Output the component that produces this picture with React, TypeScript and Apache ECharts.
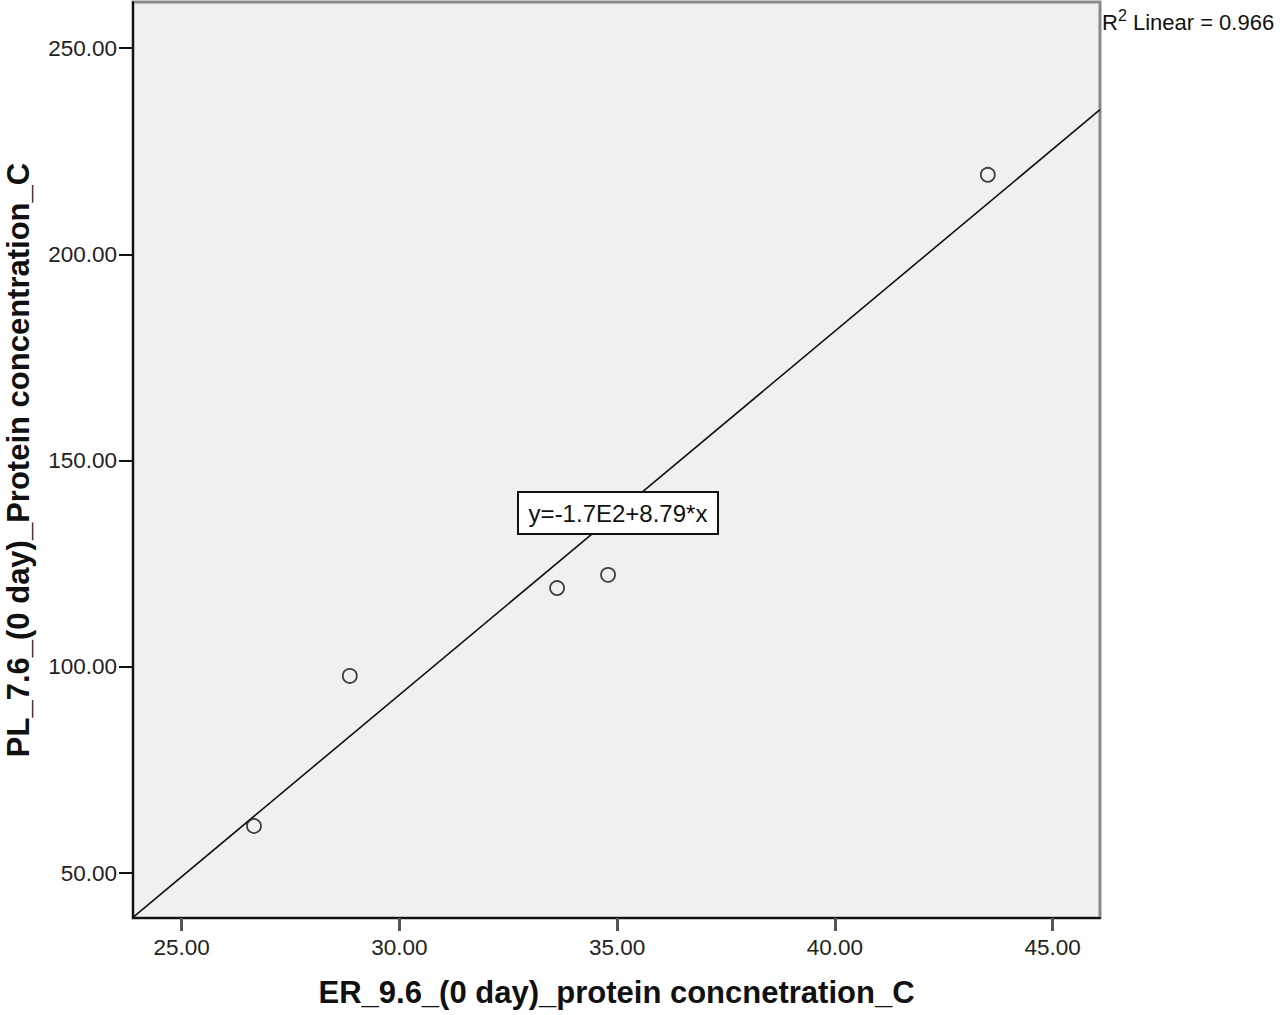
import React, { useEffect, useRef } from "react";
import * as echarts from "echarts";

const xValues = [26.66, 28.86, 33.62, 34.79, 43.51];
const yValues = [61.4, 97.8, 119.1, 122.3, 219.3];
const xTicks = [25, 30, 35, 40, 45];
const yTicks = [50, 100, 150, 200, 250];
const xTitle = "ER_9.6_(0 day)_protein concnetration_C";
const yTitle = "PL_7.6_(0 day)_Protein concentration_C";
const equationText = "y=-1.7E2+8.79*x";
const r2Value = "0.966";

const X_MIN = 23.882;
const X_MAX = 46.086;
const Y_MIN = 39.1;
const Y_MAX = 261.2;

function leastSquares(xs: number[], ys: number[]) {
  const n = xs.length;
  const mx = xs.reduce((a, b) => a + b, 0) / n;
  const my = ys.reduce((a, b) => a + b, 0) / n;
  let sxx = 0;
  let sxy = 0;
  for (let i = 0; i < n; i++) {
    sxx += (xs[i] - mx) * (xs[i] - mx);
    sxy += (xs[i] - mx) * (ys[i] - my);
  }
  const slope = sxy / sxx;
  return { slope, intercept: my - slope * mx };
}

export default function App() {
  const ref = useRef<HTMLDivElement>(null);
  useEffect(() => {
    if (!ref.current) return;
    const chart = echarts.init(ref.current, null, { renderer: "svg" });
    const fit = leastSquares(xValues, yValues);
    const fitLine = [
      [X_MIN, fit.intercept + fit.slope * X_MIN],
      [X_MAX, fit.intercept + fit.slope * X_MAX],
    ];
    const font = "'Liberation Sans', Arial, sans-serif";
    chart.setOption({
      animation: false,
      backgroundColor: "#ffffff",
      grid: {
        left: 133,
        top: 2,
        right: 180,
        bottom: 97,
        containLabel: false,
        outerBoundsMode: "none",
        show: true,
        backgroundColor: "#f0f0f0",
        borderColor: "#8a8a8a",
        borderWidth: 3,
      },
      xAxis: {
        type: "value",
        min: X_MIN,
        max: X_MAX,
        splitLine: { show: false },
        axisLine: { show: true, onZero: false, lineStyle: { color: "#111", width: 2 } },
        axisTick: {
          show: true,
          length: 13,
          customValues: xTicks,
          lineStyle: { color: "#555", width: 3 },
        },
        axisLabel: {
          customValues: xTicks,
          formatter: (v: number) => v.toFixed(2),
          fontFamily: font,
          fontSize: 22.5,
          color: "#222",
          margin: 18,
        },
        name: xTitle,
        nameLocation: "middle",
        nameGap: 59,
        nameTextStyle: { fontFamily: font, fontSize: 31, fontWeight: "bold", color: "#111" },
      },
      yAxis: {
        type: "value",
        min: Y_MIN,
        max: Y_MAX,
        splitLine: { show: false },
        axisLine: { show: true, onZero: false, lineStyle: { color: "#111", width: 2 } },
        axisTick: {
          show: true,
          length: 14,
          customValues: yTicks,
          lineStyle: { color: "#111", width: 2 },
        },
        axisLabel: {
          customValues: yTicks,
          formatter: (v: number) => v.toFixed(2),
          fontFamily: font,
          fontSize: 22.5,
          color: "#222",
          margin: 16,
        },
        name: yTitle,
        nameLocation: "middle",
        nameGap: 99,
        nameRotate: 90,
        nameTextStyle: { fontFamily: font, fontSize: 31, fontWeight: "bold", color: "#111" },
      },
      series: [
        {
          type: "line",
          data: fitLine,
          showSymbol: false,
          symbol: "none",
          lineStyle: { color: "#111", width: 1.6 },
          z: 2,
        },
        {
          type: "scatter",
          data: xValues.map((x, i) => [x, yValues[i]]),
          symbol: "circle",
          symbolSize: 14,
          itemStyle: { color: "rgba(0,0,0,0)", borderColor: "#111", borderWidth: 1.8 },
          z: 3,
        },
      ],
      graphic: [
        {
          type: "group",
          left: 517,
          top: 491,
          z: 100,
          children: [
            {
              type: "rect",
              z: 100,
              shape: { x: 0, y: 0, width: 200, height: 42 },
              style: { fill: "#ffffff", stroke: "#111", lineWidth: 2 },
            },
            {
              type: "text",
              z: 101,
              x: 100,
              y: 21,
              style: {
                text: equationText,
                fontFamily: font,
                fontSize: 24,
                fill: "#111",
                textAlign: "center",
                textVerticalAlign: "middle",
              },
            },
          ],
        },
        {
          type: "text",
          x: 1102,
          y: 7,
          z: 100,
          style: {
            text: "{a|R}{s|2}{a| Linear = " + r2Value + "}",
            rich: {
              a: { fontFamily: font, fontSize: 22, fill: "#111", color: "#111", lineHeight: 26, verticalAlign: "bottom" },
              s: { fontFamily: font, fontSize: 16, fill: "#111", color: "#111", lineHeight: 26, verticalAlign: "top", padding: [0, 0, 8, 0] },
            },
          },
        },
      ],
    });
    return () => chart.dispose();
  }, []);
  return (
    <div
      ref={ref}
      style={{ position: "absolute", left: 0, top: 0, width: 1280, height: 1015 }}
    />
  );
}
